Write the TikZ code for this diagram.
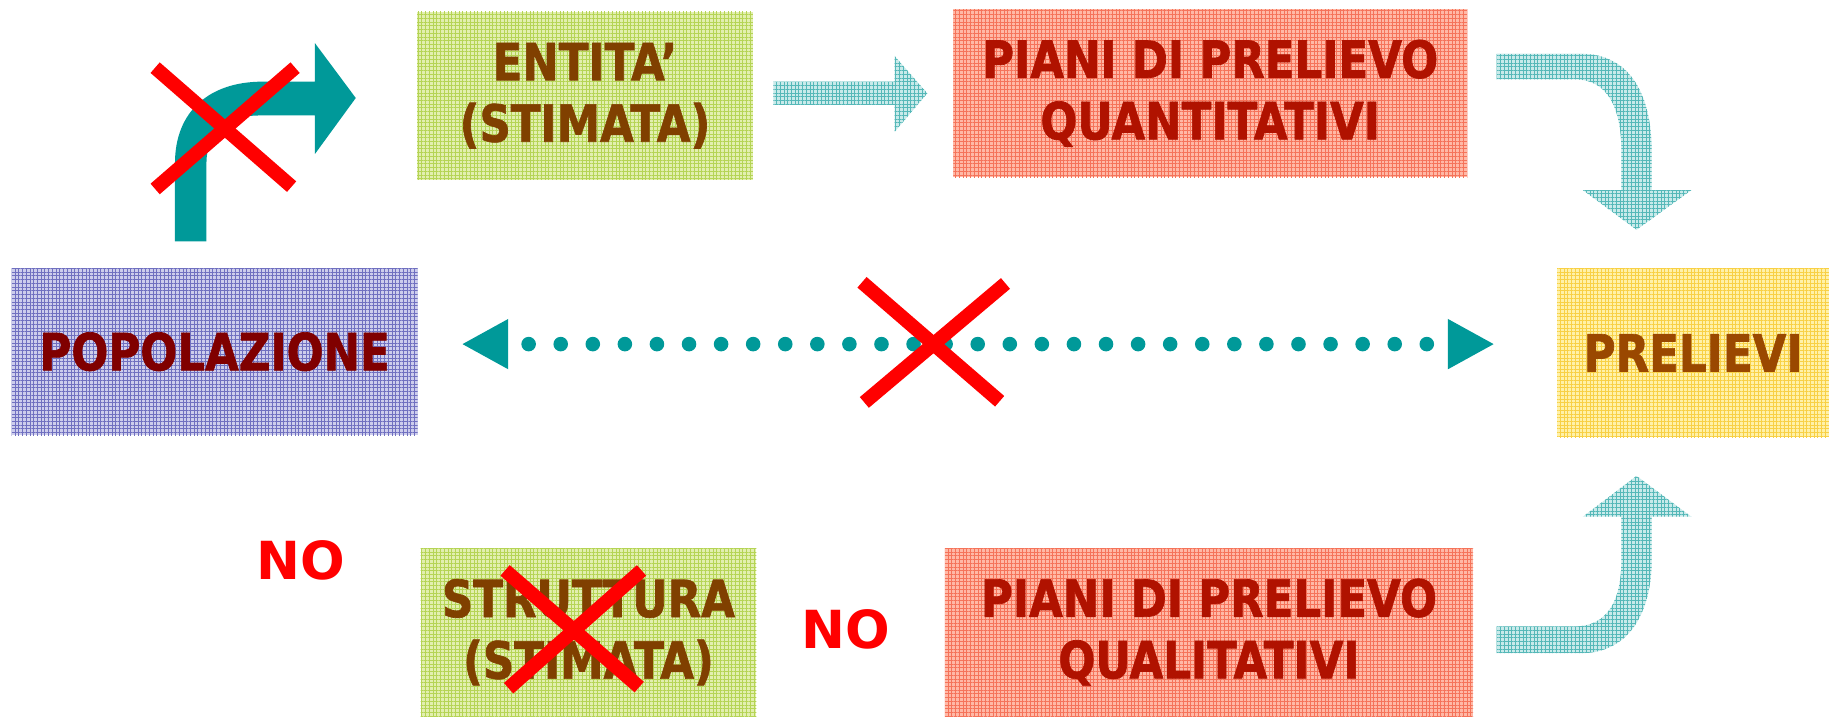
\documentclass[tikz,border=0pt]{standalone}
\usepackage{fontspec}
\usepackage{tikz}
\usetikzlibrary{arrows.meta,patterns.meta}
\newfontfamily\boxfont{DejaVu Sans}[FakeStretch=0.85, BoldFeatures={FakeBold=1.3}]
\newfontfamily\nofont{DejaVu Sans}
\definecolor{tealarr}{HTML}{009999}
\definecolor{tealfaint}{HTML}{C8EAEA}
\definecolor{tealgrid}{HTML}{55B8B8}
\definecolor{greenfill}{HTML}{E2EFAF}
\definecolor{greengrid}{HTML}{B5D455}
\definecolor{redfill}{HTML}{FFB8A6}
\definecolor{redgrid}{HTML}{F5735A}
\definecolor{bluefill}{HTML}{CDCDEC}
\definecolor{bluegrid}{HTML}{7070C0}
\definecolor{yelfill}{HTML}{FFF1A8}
\definecolor{yelgrid}{HTML}{F8D045}
\definecolor{browntxt}{HTML}{804000}
\definecolor{redtxt}{HTML}{B01200}
\definecolor{marontxt}{HTML}{800000}
\definecolor{preltxt}{HTML}{9A4800}
\tikzset{
  pbox/.style={align=center, inner sep=0pt, font=\boxfont\bfseries\fontsize{12.5pt}{15pt}\selectfont},
  pgrid/.style={postaction={pattern={Hatch[angle=0,distance=0.32mm,line width=0.06mm]}, pattern color=#1}},
  greenbox/.style={pbox, fill=greenfill, pgrid=greengrid, text=browntxt, minimum width=28.8mm, minimum height=14.4mm},
  redbox/.style={pbox, fill=redfill, pgrid=redgrid, text=redtxt, minimum height=14.4mm},
  faintarr/.style={fill=tealfaint, pgrid=tealgrid},
  crossline/.style={draw=red, line width=1.2mm},
  dotline/.style={draw=tealarr, line width=1.25mm, line cap=round, dash pattern=on 0pt off 2.75mm, dash phase=0.75mm,
    {Triangle[length=4mm,width=4mm]}-{Triangle[length=4mm,width=4mm]}}
}
\begin{document}
\begin{tikzpicture}[x=0.1mm,y=-0.1mm]
  \useasboundingbox (0,0) rectangle (1568,614);

  \node[greenbox] (ent) at (501.5,82) {ENTITA’\\(STIMATA)};
  \node[redbox, minimum width=44.1mm] (quant) at (1037.5,80) {PIANI DI PRELIEVO\\QUANTITATIVI};
  \node[pbox, fill=yelfill, pgrid=yelgrid, text=preltxt, minimum width=23.3mm, minimum height=14.5mm] (prel) at (1451.5,302.5) {PRELIEVI};
  \node[redbox, minimum width=45.3mm] (qual) at (1036.5,542) {PIANI DI PRELIEVO\\QUALITATIVI};
  \node[greenbox] (strut) at (504.5,542) {STRUTTURA\\(STIMATA)};
  \node[pbox, fill=bluefill, pgrid=bluegrid, text=marontxt, minimum width=34.8mm, minimum height=14.3mm] (pop) at (184,301.5) {POPOLAZIONE};
  \node[text=red, font=\nofont\bfseries\fontsize{12.8pt}{15pt}\selectfont] (no1) at (258,480) {NO};
  \node[text=red, font=\nofont\bfseries\fontsize{12.8pt}{15pt}\selectfont] (no2) at (725,540) {NO};

  % faint block arrows
  \fill[faintarr] (663,70) -- (767,70) -- (767,48) -- (795,80) -- (767,113) -- (767,90) -- (663,90) -- cycle;
  \fill[faintarr] (1283,46) -- (1355,46) .. controls (1400,46) and (1416,85) .. (1416,130) -- (1416,163) -- (1450,163)
    -- (1403,197) -- (1357,163) -- (1390,163) -- (1390,130) .. controls (1390,92) and (1378,68) .. (1350,68) -- (1283,68) -- cycle;
  \fill[faintarr] (1283,560) -- (1355,560) .. controls (1400,560) and (1416,520) .. (1416,480) -- (1416,443) -- (1450,443)
    -- (1403,408) -- (1357,443) -- (1390,443) -- (1390,480) .. controls (1390,515) and (1378,537) .. (1350,537) -- (1283,537) -- cycle;

  % bent arrow, crossed out
  \fill[tealarr] (150,207) -- (150,140) .. controls (150,95) and (180,70) .. (225,70) -- (270,70) -- (270,37) -- (305,84)
    -- (270,132) -- (270,99) -- (222,99) .. controls (195,99) and (177,112) .. (177,140) -- (177,207) -- cycle;
  \draw[crossline] (133,58) -- (250,160);
  \draw[crossline] (253,58) -- (133,162);

  \draw[dotline, shorten <=3.7mm, shorten >=5.3mm] ([yshift=0.65mm]pop.east) -- ([yshift=0.75mm]prel.west);
  \draw[crossline] (739,242) -- (857,344);
  \draw[crossline] (862,243) -- (741,345);

  \draw[crossline] (433,489) -- (548,589);
  \draw[crossline] (550,489) -- (436,590);
\end{tikzpicture}
\end{document}
